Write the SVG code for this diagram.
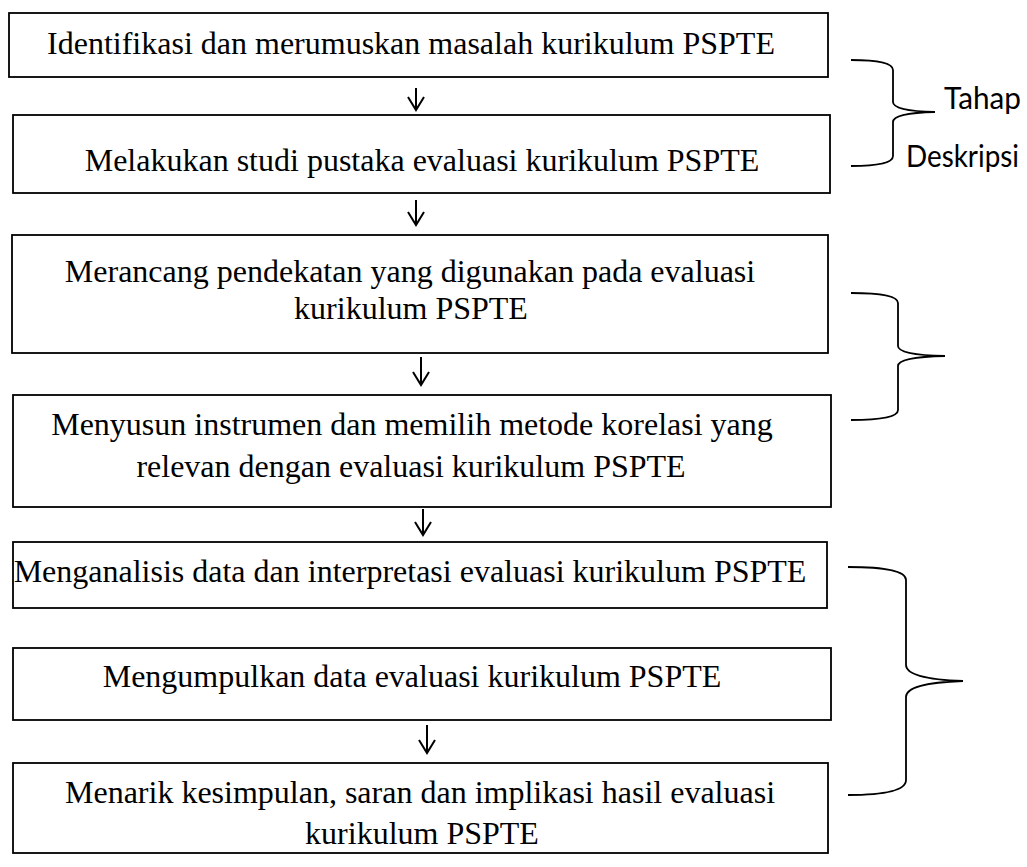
<svg xmlns="http://www.w3.org/2000/svg" width="1027" height="867" viewBox="0 0 1027 867">
<style>
.box{fill:#fff;stroke:#000;stroke-width:1.8}
.t{font-family:"Liberation Serif","Times New Roman",serif;font-size:32px;fill:#000;text-anchor:middle}
.c{font-family:Lato,"Open Sans",sans-serif;font-size:30px;fill:#000}
.ln{fill:none;stroke:#000;stroke-width:2}
.br{fill:none;stroke:#000;stroke-width:1.8}
</style>
<rect width="1027" height="867" fill="#fff"/>
<g id="n1"><rect class="box" x="9" y="13" width="819" height="64"/><text class="t" x="411" y="54">Identifikasi dan merumuskan masalah kurikulum PSPTE</text></g>
<g id="n2"><rect class="box" x="13" y="115" width="817" height="78"/><text class="t" x="422" y="171">Melakukan studi pustaka evaluasi kurikulum PSPTE</text></g>
<g id="n3"><rect class="box" x="12" y="235" width="816" height="118"/><text class="t" x="410" y="282">Merancang pendekatan yang digunakan pada evaluasi</text><text class="t" x="411" y="319">kurikulum PSPTE</text></g>
<g id="n4"><rect class="box" x="13" y="395" width="818" height="112"/><text class="t" x="412" y="435">Menyusun instrumen dan memilih metode korelasi yang</text><text class="t" x="411" y="477">relevan dengan evaluasi kurikulum PSPTE</text></g>
<g id="n5"><rect class="box" x="13" y="542" width="814" height="66"/><text class="t" x="410" y="582">Menganalisis data dan interpretasi evaluasi kurikulum PSPTE</text></g>
<g id="n6"><rect class="box" x="13" y="648" width="818" height="72"/><text class="t" x="412" y="687">Mengumpulkan data evaluasi kurikulum PSPTE</text></g>
<g id="n7"><rect class="box" x="13" y="763" width="815" height="90"/><text class="t" x="420" y="803">Menarik kesimpulan, saran dan implikasi hasil evaluasi</text><text class="t" x="422" y="844">kurikulum PSPTE</text></g>
<g id="connectors">
<path class="ln" d="M416,88 V110 M408,97 L416,110 L424,97"/>
<path class="ln" d="M416,200 V225 M408,212 L416,225 L424,212"/>
<path class="ln" d="M421,357 V385 M413,372 L421,385 L429,372"/>
<path class="ln" d="M423,509 V535 M415,522 L423,535 L431,522"/>
<path class="ln" d="M427,725 V753 M419,740 L427,753 L435,740"/>
</g>
<g id="brackets">
<path class="br" d="M851,60 Q893,60 893,70 V102 Q893,111 935,112 Q893,113 893,122 V156 Q893,166 851,166"/>
<path class="br" d="M851,293 Q898,293 898,303 V346 Q898,355 945,356 Q898,357 898,366 V410 Q898,420 851,420"/>
<path class="br" d="M848,567 Q906,567 906,580 V665 Q906,679 963,681 Q906,683 906,697 V780 Q906,795 848,795"/>
</g>
<g id="label"><text class="c" x="944" y="109" textLength="77" lengthAdjust="spacingAndGlyphs">Tahap</text><text class="c" x="906" y="167" textLength="113" lengthAdjust="spacingAndGlyphs">Deskripsi</text></g>
</svg>
